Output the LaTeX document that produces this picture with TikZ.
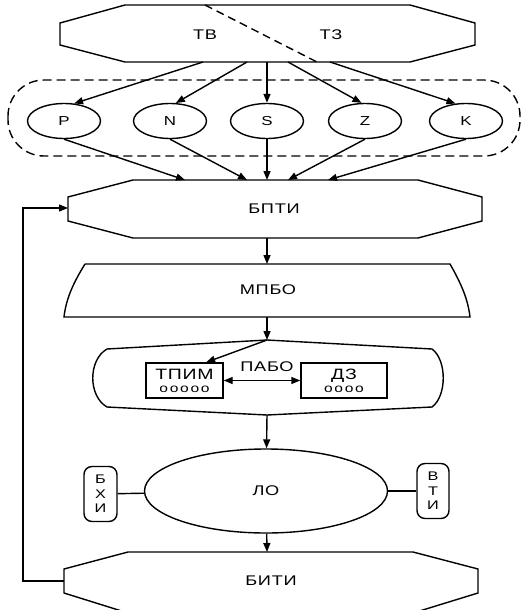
\documentclass[tikz,border=0pt]{standalone}
\usepackage{fontspec}
\setmainfont{Liberation Sans}[FakeStretch=1.3,LetterSpace=5]
\usetikzlibrary{arrows.meta,shapes.geometric}

\begin{document}
\begin{tikzpicture}[x=1pt,y=-1pt,>={Triangle[length=9pt,width=7pt]},line width=1.4pt,
    lbl/.style={font=\fontsize{14}{16}\selectfont},
    oval/.style={ellipse,draw,minimum width=73pt,minimum height=35pt,inner sep=0pt,font=\fontsize{13}{14}\selectfont},
    sidebox/.style={draw,rounded corners=8pt,minimum width=33pt,minimum height=55pt,inner sep=0pt,align=center,font=\fontsize{12.5}{14.5}\selectfont},
    inbox/.style={draw,minimum width=77pt,minimum height=35pt,inner sep=0pt,align=center}]
    \useasboundingbox (0,0) rectangle (523,610);
    % top block
    \draw (125,5) -- (410,5) -- (475,23) -- (475,45) -- (410,62) -- (125,62) -- (60,45) -- (60,23) -- cycle;
    \draw[dash pattern=on 8pt off 5pt] (205,5) -- (317,62);
    \node[lbl] (tv) at (205,35) {ТВ};
    \node[lbl] (tz) at (331,35) {ТЗ};
    % group of parameters
    \draw[dash pattern=on 9pt off 5pt,rounded corners=36pt] (8,80) rectangle (520,156);
    \foreach \n/\x in {P/64,N/170,S/267,Z/365,K/466}{
        \node[oval] (\n) at (\x,121) {\n};
    }
    % БПТИ
    \draw (133,180) -- (418,180) -- (482,197) -- (482,221) -- (418,238) -- (133,238) -- (68,221) -- (68,197) -- cycle;
    \node[lbl] (bpti) at (274,209) {БПТИ};
    \foreach \n/\a/\b/\ang in {P/203/185/60,N/247/247/72,S/267/267/90,Z/288/288/101,K/330/328/121}{
        \coordinate (top\n) at (\a,62);
        \coordinate (in\n) at (\b,180);
        \draw[->] (top\n) -- (\n.\ang);
        \draw[->] (\n.south) -- (in\n);
    }
    % МПБО
    \draw (85,264) -- (450,264) .. controls (462,285) and (468,300) .. (470,317) -- (64,317) .. controls (66,300) and (72,285) .. (85,264);
    \node[lbl] (mpbo) at (268,290) {МПБО};
    \coordinate (bptiB) at (267,238);
    \coordinate (mpboT) at (267,264);
    \coordinate (mpboB) at (267,317);
    \draw[->] (bptiB) -- (mpboT);
    % ПАБО
    \coordinate (paboT) at (267,340);
    \coordinate (paboB) at (267,415);
    \draw (107,349) -- (paboT) -- (432,349) .. controls (447,360) and (447,396) .. (432,407) -- (paboB) -- (107,407) .. controls (88,396) and (88,360) .. (107,349);
    \draw[->] (mpboB) -- (paboT);
    \node[inbox] (tpim) at (184.5,380.5) {\fontsize{15}{15}\selectfont ТПИМ\\[1pt] \fontsize{12}{12}\selectfont\addfontfeature{LetterSpace=14}ооооо};
    \node[inbox,minimum width=86pt] (dz) at (344,380.5) {\fontsize{15}{15}\selectfont ДЗ\\[1pt] \fontsize{12}{12}\selectfont\addfontfeature{LetterSpace=14}оооо};
    \node[lbl] (pabo) at (267,367) {ПАБО};
    \draw[->] (paboT) -- (tpim.40);
    \draw[<->] (tpim) -- (dz);
    % ЛО
    \node[ellipse,draw,minimum width=243pt,minimum height=84pt,inner sep=0pt,lbl] (lo) at (266,491) {ЛО};
    \node[sidebox] (bxi) at (100.5,494) {Б\\Х\\И};
    \node[sidebox,minimum width=32pt] (vti) at (433,491) {В\\Т\\И};
    \draw (bxi) -- (lo);
    \draw (lo) -- (vti);
    \draw[->] (paboB) -- (lo);
    % БИТИ
    \draw (128,552) -- (413,552) -- (478,569) -- (478,593) -- (413,613) -- (128,613) -- (64,593) -- (64,569) -- cycle;
    \node[lbl] (biti) at (271,581) {БИТИ};
    \coordinate (bitiT) at (267,552);
    \coordinate (bitiW) at (64,581);
    \coordinate (bptiW) at (68,208);
    \draw[->] (lo) -- (bitiT);
    \draw[->] (bitiW) -- ++(-41,0) |- (bptiW);
\end{tikzpicture}
\end{document}
